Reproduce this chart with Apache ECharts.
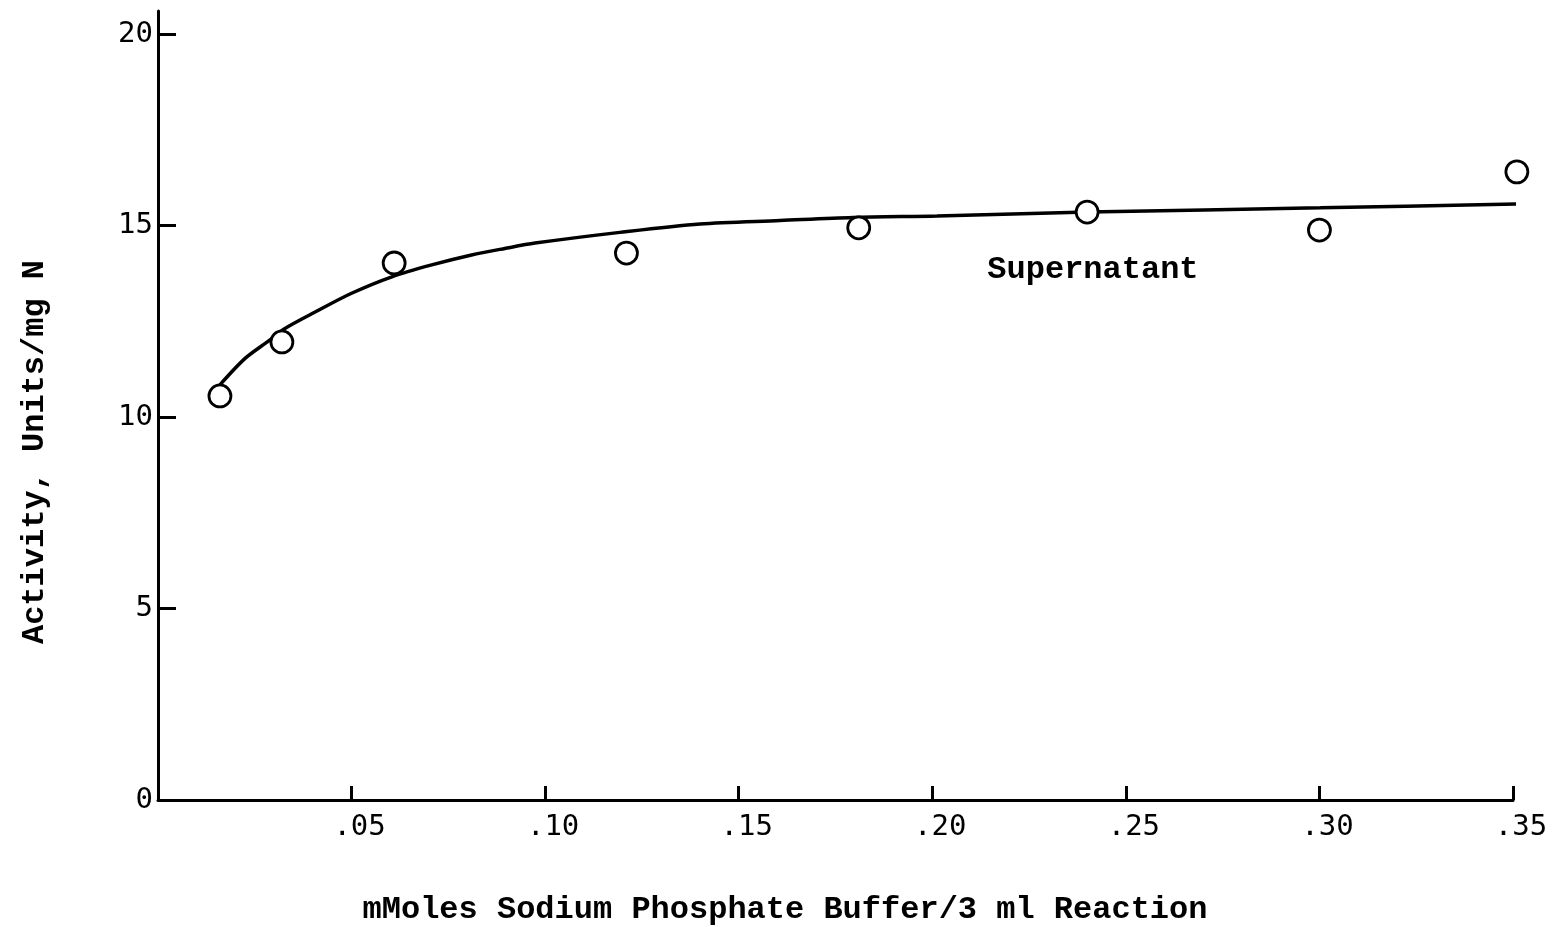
<!DOCTYPE html>
<html>
<head>
<meta charset="utf-8">
<script src="https://cdn.jsdelivr.net/npm/echarts@6/dist/echarts.min.js"></script>
<style>
html,body{margin:0;padding:0;background:#fff;}
#chart{width:1552px;height:927px;}
</style>
</head>
<body>
<div id="chart"></div>
<script>
// Measured data points (x: mmoles buffer, y: activity units/mg N)
const pointX = [0.016, 0.032, 0.061, 0.121, 0.181, 0.240, 0.300, 0.351];
const pointY = [10.55, 11.96, 14.02, 14.28, 14.94, 15.35, 14.88, 16.40];

// Hand-drawn fitted curve
const curveX = [0.0160, 0.0225, 0.0285, 0.0328, 0.0406, 0.0500, 0.0604, 0.0707, 0.0810, 0.0896, 0.0974, 0.1193, 0.1400, 0.1607, 0.1795, 0.2012, 0.2402, 0.3002, 0.3511];
const curveY = [10.84, 11.53, 11.98, 12.31, 12.74, 13.23, 13.66, 13.97, 14.23, 14.40, 14.54, 14.82, 15.04, 15.13, 15.21, 15.25, 15.35, 15.46, 15.56];

const xTickLabels = ['', '.05', '.10', '.15', '.20', '.25', '.30', '.35'];
const yTickLabels = ['0', '5', '10', '15', '20'];

const seriesLabel = 'Supernatant';
const labelAt = [0.2415, 13.84];

const xTitle = 'mMoles Sodium Phosphate Buffer/3 ml Reaction';
const yTitle = 'Activity, Units/mg N';

const chart = echarts.init(document.getElementById('chart'), null, {renderer: 'canvas'});

const typeFont = '"Liberation Mono", "DejaVu Sans Mono", monospace';
const letterFont = '"DejaVu Sans Mono", monospace';

const option = {
  animation: false,
  backgroundColor: '#ffffff',
  grid: {left: 158, right: 39, top: 11, bottom: 127, containLabel: false},
  xAxis: {
    type: 'value',
    min: 0, max: 0.35, interval: 0.05,
    axisLine: {show: true, onZero: false, lineStyle: {color: '#000', width: 3}},
    axisTick: {show: true, inside: true, length: 14, lineStyle: {color: '#000', width: 3}},
    splitLine: {show: false},
    axisLabel: {
      margin: 13,
      color: '#000',
      fontFamily: letterFont,
      fontSize: 29,
      padding: [0, 0, 0, 16],
      formatter: function (v) { const i = Math.round(v / 0.05); return xTickLabels[i] || ''; }
    }
  },
  yAxis: {
    type: 'value',
    min: 0, max: 20.6, interval: 5,
    axisLine: {show: true, onZero: false, lineStyle: {color: '#000', width: 3}},
    axisTick: {show: true, inside: true, length: 18, lineStyle: {color: '#000', width: 3}},
    splitLine: {show: false},
    axisLabel: {
      margin: 5,
      color: '#000',
      fontFamily: letterFont,
      fontSize: 29,
      showMaxLabel: false,
      formatter: function (v) { const i = Math.round(v / 5); return (Math.abs(v - i * 5) < 1e-6) ? (yTickLabels[i] || '') : ''; }
    }
  },
  series: [
    {
      type: 'line',
      data: curveX.map((x, i) => [x, curveY[i]]),
      smooth: 0.3,
      showSymbol: false,
      symbol: 'none',
      clip: false,
      lineStyle: {color: '#000', width: 3.5},
      z: 2,
      markPoint: {
        symbol: 'circle',
        symbolSize: 0,
        data: [{coord: labelAt, value: seriesLabel}],
        label: {
          show: true,
          position: 'inside',
          formatter: seriesLabel,
          color: '#000',
          fontFamily: typeFont,
          fontWeight: 'bold',
          fontSize: 32
        }
      }
    },
    {
      type: 'scatter',
      data: pointX.map((x, i) => [x, pointY[i]]),
      symbol: 'circle',
      symbolSize: 22,
      clip: false,
      itemStyle: {color: '#fff', borderColor: '#000', borderWidth: 2.8, opacity: 1},
      z: 3
    }
  ],
  graphic: [
    {
      type: 'text',
      x: 35, y: 452,
      rotation: Math.PI / 2,
      style: {
        text: yTitle,
        font: 'bold 32px ' + typeFont,
        fill: '#000',
        textAlign: 'center',
        textVerticalAlign: 'middle'
      }
    },
    {
      type: 'text',
      x: 785, y: 910,
      style: {
        text: xTitle,
        font: 'bold 32px ' + typeFont,
        fill: '#000',
        textAlign: 'center',
        textVerticalAlign: 'middle'
      }
    }
  ]
};
chart.setOption(option);
</script>
</body>
</html>
